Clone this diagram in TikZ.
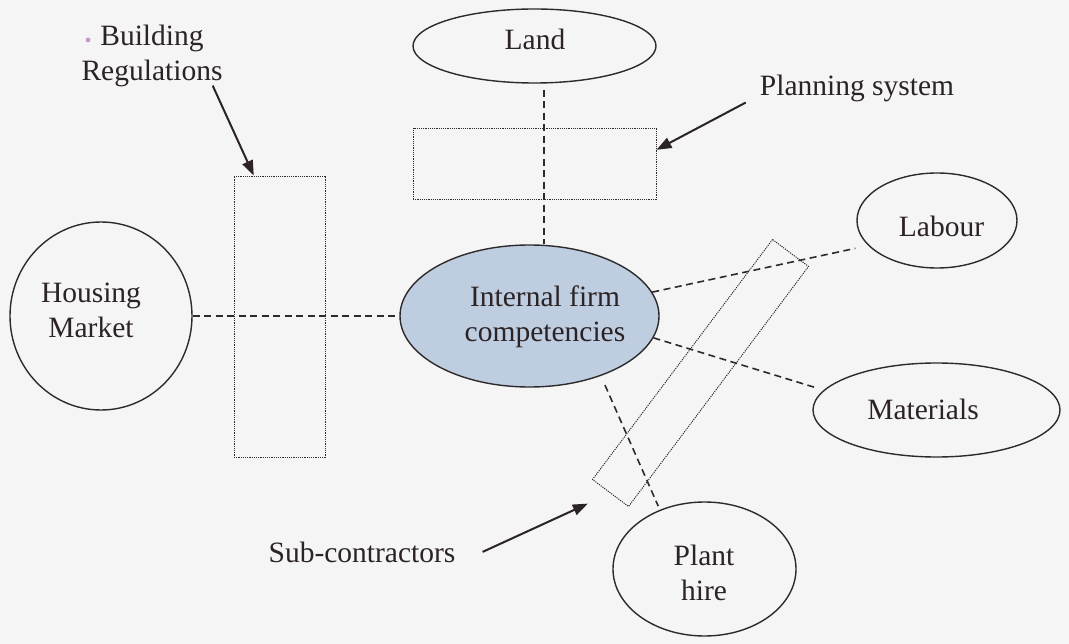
\documentclass[tikz,border=0pt]{standalone}
\usepackage{fontspec}
\setmainfont{Liberation Serif}
\usetikzlibrary{shapes.geometric,arrows.meta,calc}
\definecolor{ink}{HTML}{2B2326}
\definecolor{edge}{HTML}{2E2A2C}
\definecolor{core}{HTML}{BFCDE0}
\definecolor{paper}{HTML}{F5F5F5}
\definecolor{speck}{HTML}{C99CC6}
\begin{document}
\begin{tikzpicture}[x=1pt,y=-1pt,
  lbl/.style={font=\fontsize{29.5}{35}\selectfont, text=ink, align=center, inner sep=0pt, anchor=base},
  bubble/.style={ellipse, draw=edge, line width=1.4pt, inner sep=0pt},
  zone/.style={rectangle, draw=edge, line width=0.9pt, dash pattern=on 1.2pt off 1pt, inner sep=0pt},
  link/.style={draw=edge, line width=1.6pt, dash pattern=on 7pt off 4.5pt},
  pointer/.style={draw=ink, line width=2pt, -{Triangle[length=15pt,width=11pt]}}
]
\fill[paper] (0,0) rectangle (1069,644);
\useasboundingbox (0,0) rectangle (1069,644);

% outlined bubbles
\node[bubble, minimum width=182pt, minimum height=188pt] (hm) at (101,316) {};
\node[bubble, minimum width=243pt, minimum height=74pt] (land) at (534.5,46) {};
\node[bubble, fill=core, minimum width=259pt, minimum height=142pt] (ifc) at (529.5,316) {};
\node[bubble, minimum width=160pt, minimum height=95pt] (lab) at (937,220.5) {};
\node[bubble, minimum width=247pt, minimum height=94pt] (mat) at (936.5,410) {};
\node[bubble, minimum width=183pt, minimum height=134pt] (ph) at (704.5,569) {};

% dotted influence zones
\node[zone, minimum width=91pt, minimum height=281pt] (brbox) at (279.5,316.5) {};
\node[zone, minimum width=243pt, minimum height=71pt] (psbox) at (534.5,163.5) {};
\node[zone, minimum width=300pt, minimum height=45pt, rotate=53.13] (scbox) at (700.5,373) {};

% labels (two-line labels are placed by their last baseline)
\node[lbl] (brt) at (152,81) {Building\\Regulations};
\node[lbl] (landt) at (535,50) {Land};
\node[lbl] (pst) at (857,96) {Planning system};
\node[lbl] (hmt) at (91,338) {Housing\\Market};
\node[lbl] (ifct) at (545,342) {Internal firm\\competencies};
\node[lbl] (labt) at (941.5,237) {Labour};
\node[lbl] (matt) at (923,420) {Materials};
\node[lbl] (pht) at (704,600) {Plant\\hire};
\node[lbl] (sct) at (362,562) {Sub-contractors};

\fill[speck] (88,40) circle (2.5);

% dashed links to the firm
\coordinate (lx) at (544,0);
\draw[link, shorten <=6pt] (land.south -| lx) -- (ifc.north -| lx);
\draw[link] (hm.east) -- (ifc.west);
\draw[link, shorten >=13pt] (ifc.11) -- (lab.200);
\draw[link, shorten >=10pt] (ifc.-10) -- (mat.170);
\draw[link, shorten <=10pt, shorten >=4pt] (ifc.-40) -- (ph.127);

% pointers from the outside influences
\draw[pointer] ($(brt.south east)+(-10,-2)$) -- ($(brbox.north west)!0.22!(brbox.north east)$);
\draw[pointer] ($(pst.south west)+(-14,0)$) -- ($(psbox.north east)!0.31!(psbox.south east)$);
\draw[pointer, shorten >=24.6pt] ($(sct.east)+(27,0)$) -- (scbox.west);
\end{tikzpicture}
\end{document}
